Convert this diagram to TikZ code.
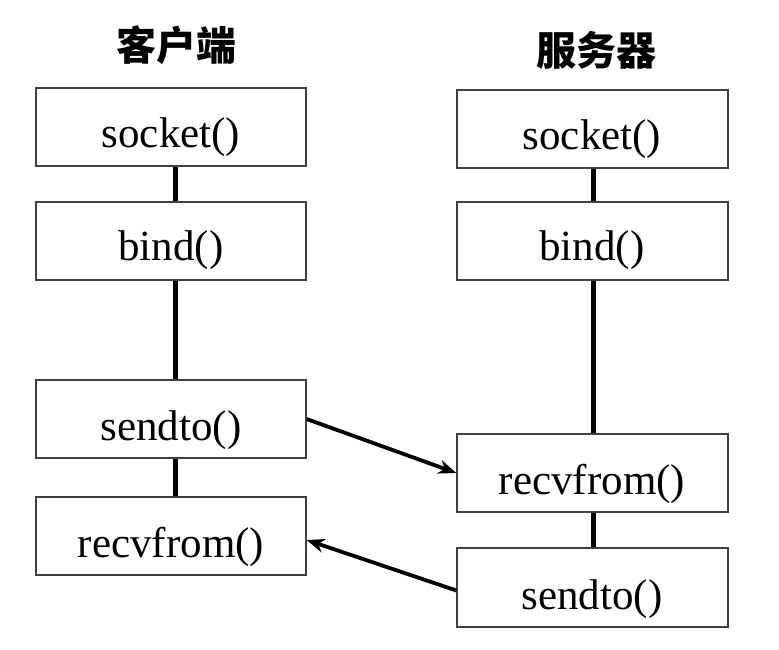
\documentclass[tikz,border=0pt]{standalone}
\usepackage{fontspec}
\setmainfont{Liberation Serif}
\newfontfamily\cjk{Noto Sans CJK SC}
\usetikzlibrary{arrows.meta}
\begin{document}
\begin{tikzpicture}[x=1pt,y=-1pt,
  fbox/.style={draw=black!75,line width=1.3pt,minimum width=270pt,minimum height=78pt,inner sep=0pt},
  ftext/.style={font=\fontsize{43}{50}\selectfont,inner sep=0pt},
  head/.style={font=\cjk\bfseries\fontsize{40}{48}\selectfont,inner sep=0pt},
  vline/.style={line width=5pt},
  msg/.style={line width=3.8pt,-{Stealth[length=18pt,width=14pt]}}]
\useasboundingbox (0,0) rectangle (779,650);
\node[head] (hc) at (176,45) {客户端};
\node[head] (hs) at (596,50) {服务器};
% client
\node[fbox] (lsock) at (171,127) {};
\node[fbox] (lbind) at (171,241) {};
\node[fbox] (lsend) at (171,419) {};
\node[fbox] (lrecv) at (171,536) {};
% server
\node[fbox,minimum width=271pt] (rsock) at (592.5,129) {};
\node[fbox,minimum width=271pt] (rbind) at (592.5,241) {};
\node[fbox,minimum width=271pt] (rrecv) at (592.5,473) {};
\node[fbox,minimum width=271pt,minimum height=79pt] (rsend) at (592.5,587.5) {};
% texts
\node[ftext] (tls) at (171,137) {socket()};
\node[ftext] (tlb) at (171,250) {bind()};
\node[ftext] (tlsd) at (171,430) {sendto()};
\node[ftext] (tlr) at (171,547) {recvfrom()};
\node[ftext] (trs) at (592,139) {socket()};
\node[ftext] (trb) at (592,250) {bind()};
\node[ftext] (trr) at (592,484) {recvfrom()};
\node[ftext] (trsd) at (592,599) {sendto()};
% vertical lines
\draw[vline] (lsock.south -| 175,0) -- (lbind.north -| 175,0);
\draw[vline] (lbind.south -| 175,0) -- (lsend.north -| 175,0);
\draw[vline] (lsend.south -| 175,0) -- (lrecv.north -| 175,0);
\draw[vline] (rsock.south -| 593,0) -- (rbind.north -| 593,0);
\draw[vline] (rbind.south -| 593,0) -- (rrecv.north -| 593,0);
\draw[vline] (rrecv.south -| 593,0) -- (rsend.north -| 593,0);
% messages
\draw[msg] (lsend.east) -- (rrecv.west);
\draw[msg] ([yshift=-3pt]rsend.west) -- ([yshift=-4pt]lrecv.east);
\end{tikzpicture}
\end{document}
